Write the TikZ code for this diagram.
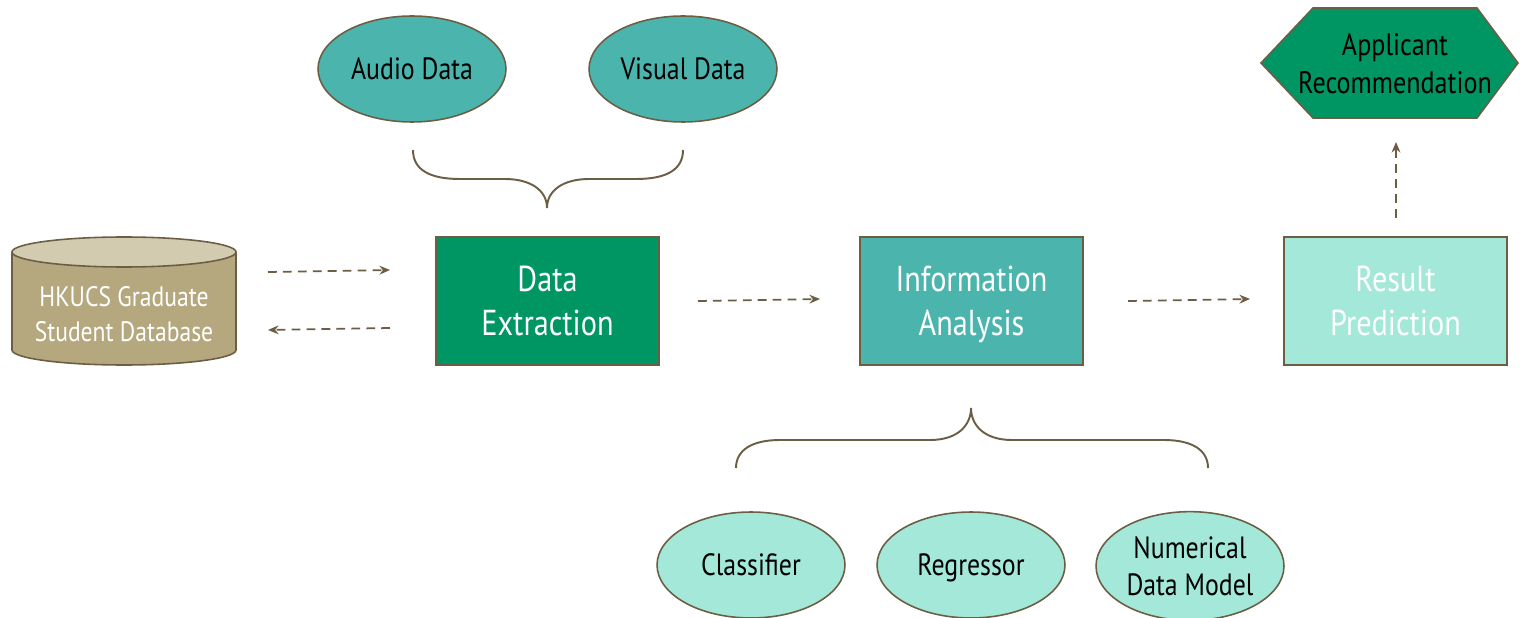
\documentclass[tikz,border=0pt]{standalone}
\usepackage{fontspec}
\setmainfont[FakeStretch=0.84]{PT Sans}
\usetikzlibrary{arrows.meta,shapes.geometric}
\definecolor{edge}{HTML}{6B5E45}
\definecolor{dgreen}{HTML}{009664}
\definecolor{teal}{HTML}{4BB5AD}
\definecolor{mint}{HTML}{A3E8D8}
\definecolor{dbbody}{HTML}{B5A87E}
\definecolor{dbtop}{HTML}{D3CBB0}
\newcommand\hstr{\rule{0pt}{1.0em}}
\newcommand\dstr{\rule[-0.3em]{0pt}{0pt}}
\begin{document}
\begin{tikzpicture}[x=0.02cm,y=-0.02cm,
  boxstyle/.style={draw=edge,line width=0.9pt,minimum width=4.46cm,minimum height=2.56cm,text=white,font=\fontsize{20.5}{25}\selectfont,align=center,inner sep=0pt},
  ellstyle/.style={ellipse,draw=edge,line width=0.9pt,minimum width=3.76cm,minimum height=2.12cm,font=\fontsize{17.5}{21}\selectfont,align=center,inner sep=0pt},
  flow/.style={draw=edge,line width=1pt,dashed,dash pattern=on 5pt off 3.5pt,-{Stealth[length=6pt,width=5pt]}},
  bracestyle/.style={draw=edge,line width=1.1pt}]
\useasboundingbox (0,0) rectangle (1520,618);
% database cylinder
\fill[dbbody] (12,252) -- (12,350) arc[start angle=180,end angle=360,x radius=112,y radius=-15] -- (236,252) -- cycle;
\draw[edge,line width=0.9pt] (12,252) -- (12,350) arc[start angle=180,end angle=360,x radius=112,y radius=-15] -- (236,252);
\draw[edge,line width=0.9pt,fill=dbtop] (124,252) ellipse[x radius=112,y radius=15];
\node[text=white,font=\fontsize{16}{19.8}\selectfont,align=center,inner sep=0pt] (db) at (124,314.5) {\hstr HKUCS Graduate\\Student Database\dstr};
\coordinate (dbA) at (268,272);
\coordinate (dbB) at (268,330);
% boxes
\node[boxstyle,fill=dgreen] (ext) at (547.5,301) {\hstr Data\\Extraction\dstr};
\node[boxstyle,fill=teal] (ana) at (971.5,301) {\hstr Information\\Analysis\dstr};
\node[boxstyle,fill=mint] (res) at (1395.5,301) {\hstr Result\\Prediction\dstr};
% hexagon
\filldraw[draw=edge,line width=0.9pt,fill=dgreen] (1261,63) -- (1313,8) -- (1477,8) -- (1518,63) -- (1477,118) -- (1313,118) -- cycle;
\node[font=\fontsize{17.7}{21.5}\selectfont,align=center,inner sep=0pt] (rec) at (1395,64) {\hstr Applicant\\Recommendation\dstr};
% arrows
\coordinate (extL1) at (390,270);
\coordinate (extL2) at (390,328);
\draw[flow] (dbA) -- (extL1);
\draw[flow] (extL2) -- (dbB);
\draw[flow] (698,301) -- (820,299);
\draw[flow] (1128,301) -- (1250,299);
\coordinate (resT) at (1396,218);
\coordinate (recB) at (1396,142);
\draw[flow] (resT) -- (recB);
% top ellipses
\node[ellstyle,fill=teal] (aud) at (412,69) {\hstr Audio Data\dstr};
\node[ellstyle,fill=teal] (vis) at (683,69) {\hstr Visual Data\dstr};
% bottom ellipses
\node[ellstyle,fill=mint] (cls) at (751,565) {\hstr Classifier\dstr};
\node[ellstyle,fill=mint] (reg) at (971,565) {\hstr Regressor\dstr};
\node[ellstyle,fill=mint] (num) at (1190,566) {\hstr Numerical\\Data Model\dstr};
% top brace
\draw[bracestyle] (413,150) .. controls (413,170) and (430,179) .. (460,179) -- (505,179) .. controls (530,179) and (547,190) .. (547,208);
\draw[bracestyle] (683,150) .. controls (683,170) and (666,179) .. (636,179) -- (589,179) .. controls (564,179) and (547,190) .. (547,208);
% bottom brace
\draw[bracestyle] (736,468) .. controls (736,450) and (752,440) .. (780,440) -- (930,440) .. controls (958,440) and (971,425) .. (971,408);
\draw[bracestyle] (1208,468) .. controls (1208,450) and (1192,440) .. (1164,440) -- (1012,440) .. controls (984,440) and (971,425) .. (971,408);
\end{tikzpicture}
\end{document}
